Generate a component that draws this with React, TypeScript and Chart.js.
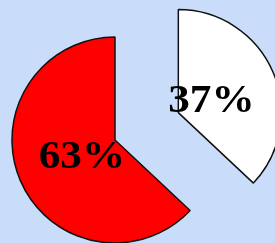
import React, { useEffect, useRef } from "react";
import { Chart, registerables, ArcElement } from "chart.js";

Chart.register(...registerables);

const categories = ["White", "Red"];
const values = [37, 63];
const percentLabels = ["37%", "63%"];
const sliceColors = ["#ffffff", "#ff0000"];
const sliceOffsets = [69, 0];

const BG = "#c9ddfb";

// Explode slices by a plain translation along their mid-angle.
const explodePlugin = {
  id: "explodeSlices",
  beforeDatasetsDraw(chart: any) {
    const meta = chart.getDatasetMeta(0);
    meta.data.forEach((arc: any, i: number) => {
      const off = sliceOffsets[i] || 0;
      if (!off || arc.__exploded) return;
      arc.__exploded = true;
      arc.draw = function (ctx: CanvasRenderingContext2D) {
        const mid = (this.startAngle + this.endAngle) / 2;
        ctx.save();
        ctx.translate(Math.cos(mid) * off, Math.sin(mid) * off);
        (ArcElement.prototype as any).draw.call(this, ctx);
        ctx.restore();
      };
    });
  },
};

const labelPlugin = {
  id: "sliceLabels",
  afterDatasetsDraw(chart: any) {
    const ctx = chart.ctx;
    const meta = chart.getDatasetMeta(0);
    meta.data.forEach((arc: any, i: number) => {
      const mid = (arc.startAngle + arc.endAngle) / 2;
      const off = sliceOffsets[i] || 0;
      const d = off + arc.outerRadius * 0.35;
      const x = arc.x + Math.cos(mid) * d;
      const y = arc.y + Math.sin(mid) * d;
      ctx.save();
      ctx.translate(x, y + 3);
      ctx.scale(1.08, 1);
      ctx.font = "bold 40px 'Liberation Serif', 'Times New Roman', serif";
      ctx.fillStyle = "#000000";
      ctx.textAlign = "center";
      ctx.textBaseline = "middle";
      ctx.fillText(percentLabels[i], 0, 0);
      ctx.restore();
    });
  },
};

export default function App() {
  const ref = useRef<HTMLCanvasElement | null>(null);
  useEffect(() => {
    document.body.style.margin = "0";
    document.body.style.background = BG;
    const canvas = ref.current!;
    const chart = new Chart(canvas, {
      type: "pie",
      data: {
        labels: categories,
        datasets: [
          {
            data: values,
            backgroundColor: sliceColors,
            borderColor: "#111111",
            borderWidth: 1.5,
            clip: false as any,
          } as any,
        ],
      },
      options: {
        responsive: false,
        animation: false,
        radius: 103,
        layout: { padding: { left: 0, right: 45, top: 37, bottom: 0 } },
        plugins: {
          legend: { display: false },
          tooltip: { enabled: false },
        },
      } as any,
      plugins: [explodePlugin, labelPlugin],
    });
    return () => chart.destroy();
  }, []);
  return (
    <canvas
      ref={ref}
      width={275}
      height={243}
      style={{ position: "fixed", left: 0, top: 0, width: 275, height: 243, background: BG }}
    />
  );
}
